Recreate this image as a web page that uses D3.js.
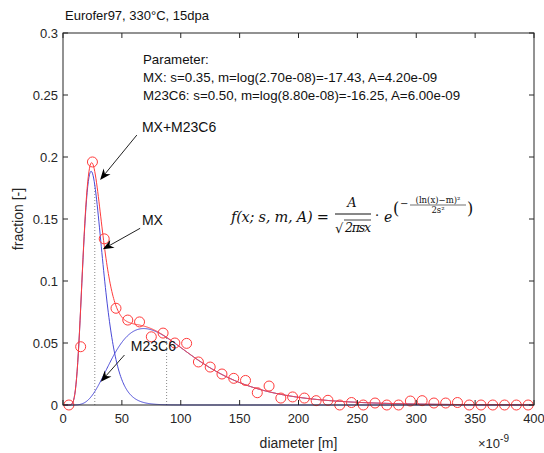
<!DOCTYPE html>
<html>
<head>
<meta charset="utf-8">
<script src="https://cdn.jsdelivr.net/npm/d3@7"></script>
<style>
  body { margin: 0; background: #fff; }
  text { font-family: "Liberation Sans", Arial, sans-serif; }
  .math text { font-family: "DejaVu Serif", "Liberation Serif", serif; }
</style>
</head>
<body>
<div id="chart"></div>
<script>
// measured size distribution (diameter bin centres in nm, fraction)
const diameters = [5, 15, 25, 35, 45, 55, 65, 75, 85, 95, 105, 115, 125, 135, 145, 155, 165, 175, 185, 195,
  205, 215, 225, 235, 245, 255, 265, 275, 285, 295, 305, 315, 325, 335, 345, 355, 365, 375, 385, 395];
const fractions = [0, 0.047, 0.196, 0.134, 0.078, 0.0685, 0.067, 0.055, 0.058, 0.050, 0.0497, 0.0347, 0.0306, 0.025, 0.0215, 0.0198, 0.0099, 0.0153, 0.0056, 0.0065,
  0.0056, 0.0035, 0.0038, 0, 0.002, 0, 0.0016, 0, 0, 0.0032, 0.0035, 0.0016, 0.0016, 0.002, 0, 0, 0, 0, 0, 0];

// fitted lognormal parameters
const phases = ["MX", "M23C6"];
const sParams = [0.35, 0.50];
const medians = [2.70e-08, 8.80e-08];
const amps = [4.20e-09, 6.00e-09];

const xTicks = [0, 50, 100, 150, 200, 250, 300, 350, 400];
const yTicks = [0, 0.05, 0.1, 0.15, 0.2, 0.25, 0.3];
const yTickLabels = ["0", "0.05", "0.1", "0.15", "0.2", "0.25", "0.3"];

// annotations [text, text x, text y, arrow start x, y, arrow tip x, y] in data units
const notes = [
  ["MX+M23C6", 67, 0.2202, 62.7, 0.2177, 31.5, 0.1815],
  ["MX", 67, 0.1452, 65.5, 0.1425, 33.8, 0.1256],
  ["M23C6", 57.6, 0.0435, 52.2, 0.0403, 32.1, 0.0188]
];

const width = 544, height = 453;
const margin = {top: 33, right: 10, bottom: 48, left: 63};

const x = d3.scaleLinear().domain([0, 400]).range([margin.left, width - margin.right]);
const y = d3.scaleLinear().domain([0, 0.3]).range([height - margin.bottom, margin.top]);

const svg = d3.select("#chart").append("svg")
  .attr("width", width)
  .attr("height", height);

const axisCol = "#262626";
const red = "#ff3b3b";
const blue = "#4a4ad8";

// lognormal model, d in nm
function logn(d, i) {
  const xm = d * 1e-9;
  const m = Math.log(medians[i]);
  const s = sParams[i];
  return amps[i] / (Math.sqrt(2 * Math.PI) * s * xm) * Math.exp(-Math.pow(Math.log(xm) - m, 2) / (2 * s * s));
}

const grid = d3.range(0.5, 400.01, 0.5);
const line = d3.line().x(d => x(d[0])).y(d => y(d[1]));

// dotted lines at median diameters
medians.forEach((m, i) => {
  const d = m * 1e9;
  svg.append("line")
    .attr("x1", x(d)).attr("x2", x(d))
    .attr("y1", y(0)).attr("y2", y(logn(d, i)))
    .attr("stroke", "#888").attr("stroke-width", 1)
    .attr("stroke-dasharray", "1,2");
});

// component curves
phases.forEach((p, i) => {
  svg.append("path")
    .datum(grid.map(d => [d, logn(d, i)]))
    .attr("d", line)
    .attr("fill", "none")
    .attr("stroke", blue)
    .attr("stroke-width", 1);
});

// sum curve
svg.append("path")
  .datum(grid.map(d => [d, logn(d, 0) + logn(d, 1)]))
  .attr("d", line)
  .attr("fill", "none")
  .attr("stroke", red)
  .attr("stroke-width", 1);

// data circles
svg.selectAll("circle.pt")
  .data(diameters)
  .enter()
  .append("circle")
  .attr("class", "pt")
  .attr("cx", d => x(d))
  .attr("cy", (d, i) => y(fractions[i]))
  .attr("r", 5)
  .attr("fill", "none")
  .attr("stroke", red)
  .attr("stroke-width", 1);

// axes (box with inward ticks)
const x0 = x(0), x1 = x(400), y0 = y(0), y1 = y(0.3);
svg.append("rect")
  .attr("x", x0).attr("y", y1)
  .attr("width", x1 - x0).attr("height", y0 - y1)
  .attr("fill", "none").attr("stroke", axisCol).attr("stroke-width", 1);

const tl = 5;
xTicks.forEach(t => {
  svg.append("line").attr("x1", x(t)).attr("x2", x(t)).attr("y1", y0).attr("y2", y0 - tl).attr("stroke", axisCol);
  svg.append("line").attr("x1", x(t)).attr("x2", x(t)).attr("y1", y1).attr("y2", y1 + tl).attr("stroke", axisCol);
  svg.append("text")
    .attr("x", x(t)).attr("y", y0 + 18)
    .attr("text-anchor", "middle")
    .attr("font-size", 13)
    .attr("fill", axisCol)
    .text(t);
});
yTicks.forEach((t, i) => {
  svg.append("line").attr("x1", x0).attr("x2", x0 + tl).attr("y1", y(t)).attr("y2", y(t)).attr("stroke", axisCol);
  svg.append("line").attr("x1", x1).attr("x2", x1 - tl).attr("y1", y(t)).attr("y2", y(t)).attr("stroke", axisCol);
  svg.append("text")
    .attr("x", x0 - 5).attr("y", y(t) + 5)
    .attr("text-anchor", "end")
    .attr("font-size", 13)
    .attr("fill", axisCol)
    .text(yTickLabels[i]);
});

// exponent label
const ex = svg.append("text")
  .attr("x", 478).attr("y", 448)
  .attr("font-size", 13)
  .attr("fill", axisCol);
ex.append("tspan").text("×10");
ex.append("tspan").attr("dy", -6).attr("font-size", 10).text("-9");

// axis titles
svg.append("text")
  .attr("x", (x0 + x1) / 2).attr("y", 448)
  .attr("text-anchor", "middle")
  .attr("font-size", 14)
  .attr("fill", axisCol)
  .text("diameter [m]");

svg.append("text")
  .attr("transform", `translate(23,${(y0 + y1) / 2}) rotate(-90)`)
  .attr("text-anchor", "middle")
  .attr("font-size", 14)
  .attr("fill", axisCol)
  .text("fraction [-]");

// title
svg.append("text")
  .attr("x", 65).attr("y", 20)
  .attr("font-size", 13)
  .attr("fill", "#111")
  .text("Eurofer97, 330°C, 15dpa");

// parameter text
const fmtE = v => v.toExponential(2).replace(/e([+-])(\d)$/, "e$10$2");
const paramLines = ["Parameter:"].concat(phases.map((p, i) =>
  `${p}: s=${sParams[i].toFixed(2)}, m=log(${fmtE(medians[i])})=${Math.log(medians[i]).toFixed(2)}, A=${fmtE(amps[i])}`));
paramLines.forEach((t, i) => {
  svg.append("text")
    .attr("x", 143).attr("y", 64 + i * 18)
    .attr("font-size", 13.3)
    .attr("fill", "#111")
    .text(t);
});

// arrow annotations
notes.forEach(n => {
  const [label, tx, ty, sx, sy, ax, ay] = n;
  const X1 = x(sx), Y1 = y(sy), X2 = x(ax), Y2 = y(ay);
  const ang = Math.atan2(Y2 - Y1, X2 - X1);
  const hl = 11, hw = 4.5;
  const bx = X2 - hl * Math.cos(ang), by = Y2 - hl * Math.sin(ang);
  const nx = X2 - 0.7 * hl * Math.cos(ang), ny = Y2 - 0.7 * hl * Math.sin(ang);
  svg.append("line")
    .attr("x1", X1).attr("y1", Y1).attr("x2", nx).attr("y2", ny)
    .attr("stroke", "#222").attr("stroke-width", 1);
  const px = -Math.sin(ang), py = Math.cos(ang);
  svg.append("path")
    .attr("d", `M${X2},${Y2}L${bx + hw * px},${by + hw * py}L${nx},${ny}L${bx - hw * px},${by - hw * py}Z`)
    .attr("fill", "#000");
  svg.append("text")
    .attr("x", x(tx)).attr("y", y(ty))
    .attr("font-size", 14)
    .attr("fill", "#111")
    .text(label);
});

// formula
const f = svg.append("g").attr("class", "math").attr("fill", "#111");
f.append("text").attr("x", 231).attr("y", 222).attr("font-size", 14.5).attr("font-style", "italic").attr("textLength", 98).text("f(x; s, m, A) =");
f.append("text").attr("x", 352).attr("y", 207).attr("font-size", 13).attr("font-style", "italic").attr("text-anchor", "middle").text("A");
f.append("line").attr("x1", 335).attr("x2", 371).attr("y1", 214).attr("y2", 214).attr("stroke", "#111").attr("stroke-width", 1);
f.append("text").attr("x", 335).attr("y", 233).attr("font-size", 13).text("√");
f.append("line").attr("x1", 344).attr("x2", 371).attr("y1", 220).attr("y2", 220).attr("stroke", "#111").attr("stroke-width", 0.8);
f.append("text").attr("x", 345).attr("y", 232).attr("font-size", 12.5).attr("font-style", "italic").attr("textLength", 26).text("2πsx");
f.append("text").attr("x", 375).attr("y", 220).attr("font-size", 13).text("·");
f.append("text").attr("x", 384).attr("y", 222).attr("font-size", 14).attr("font-style", "italic").text("e");
f.append("text").attr("x", 393).attr("y", 214).attr("font-size", 16).text("(");
f.append("text").attr("x", 400).attr("y", 207).attr("font-size", 10).text("−");
f.append("text").attr("x", 438).attr("y", 203).attr("font-size", 8.5).attr("text-anchor", "middle").text("(ln(x)−m)²");
f.append("line").attr("x1", 410).attr("x2", 466).attr("y1", 205).attr("y2", 205).attr("stroke", "#111").attr("stroke-width", 0.6);
f.append("text").attr("x", 438).attr("y", 213).attr("font-size", 8.5).attr("text-anchor", "middle").text("2s²");
f.append("text").attr("x", 467).attr("y", 214).attr("font-size", 16).text(")");
</script>
</body>
</html>
